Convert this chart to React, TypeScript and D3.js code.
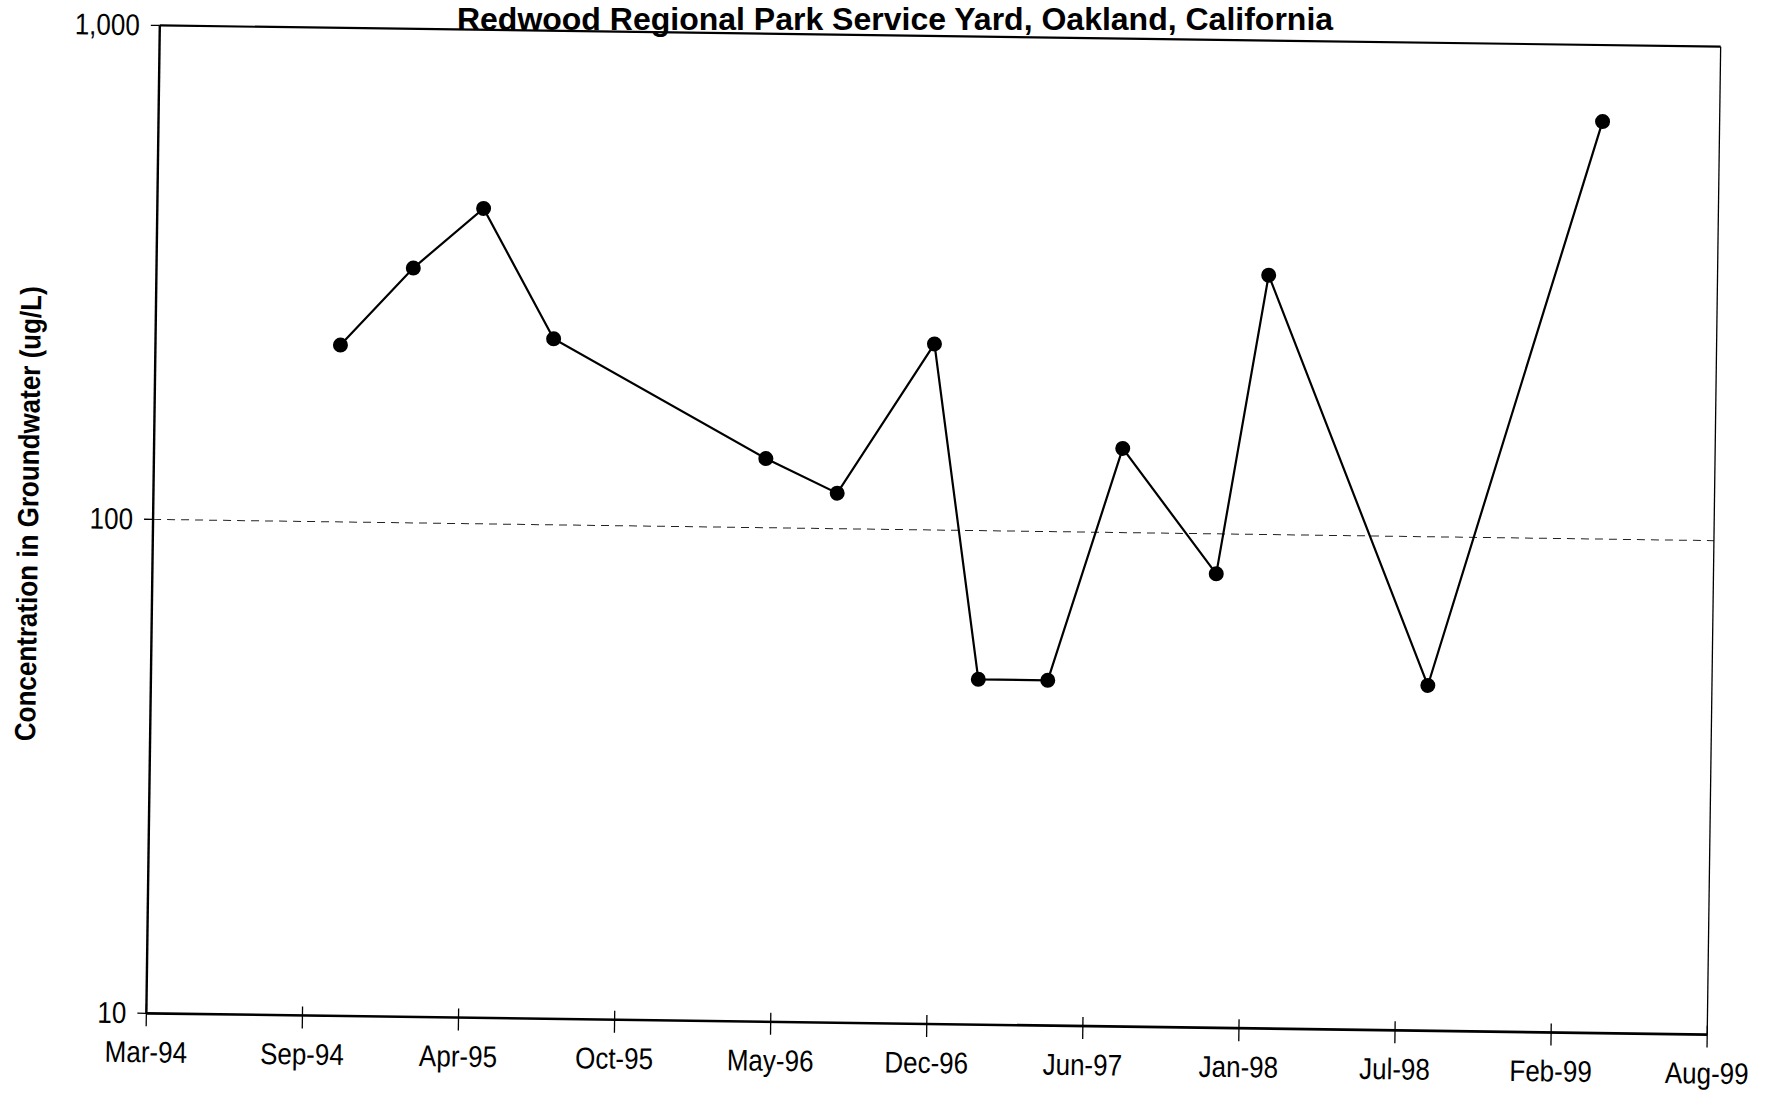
import React from "react";
import * as d3 from "d3";

// Sampling dates and measured concentrations (ug/L)
const sampleDates = [
  "1994-11-02", "1995-02-02", "1995-05-02", "1995-08-02",
  "1996-05-02", "1996-08-02", "1996-12-02", "1997-02-02",
  "1997-05-02", "1997-08-02", "1997-12-02", "1998-02-02",
  "1998-09-01", "1999-04-03",
];
const concentrations = [228, 328, 435, 238, 138, 118, 238, 50, 50, 148, 83, 335, 50, 700];

// Date axis: ticks every 200 days
const xTickDates = [
  "1994-03-10", "1994-09-26", "1995-04-14", "1995-10-31", "1996-05-18",
  "1996-12-04", "1997-06-22", "1998-01-08", "1998-07-27", "1999-02-12", "1999-08-31",
];
const yTickValues = [10, 100, 1000];

const TITLE = "Redwood Regional Park Service Yard, Oakland, California";
const Y_LABEL = "Concentration in Groundwater (ug/L)";

const W = 1775;
const H = 1094;
const plot = { left: 153, right: 1714, top: 36, bottom: 1024 };
const FONT = "'Liberation Sans', Arial, Helvetica, sans-serif";

const parse = d3.timeParse("%Y-%m-%d");
const fmt = d3.timeFormat("%b-%y");
const fmtY = d3.format(",");

export default function App() {
  const ticks = xTickDates.map((s) => parse(s) as Date);
  const x = d3
    .scaleTime()
    .domain([ticks[0], ticks[ticks.length - 1]])
    .range([plot.left, plot.right]);
  const y = d3.scaleLog().domain([10, 1000]).range([plot.bottom, plot.top]);

  const points = sampleDates.map((d, i) => ({ date: parse(d) as Date, value: concentrations[i] }));
  const line = d3
    .line<{ date: Date; value: number }>()
    .x((d) => x(d.date))
    .y((d) => y(d.value));

  const tickStretch = 1.15;

  return (
    <svg
      width={W}
      height={H}
      style={{ position: "absolute", left: 0, top: 0, background: "#fff" }}
    >
      <rect x={0} y={0} width={W} height={H} fill="#fff" />
      <g transform={`rotate(0.78 ${(plot.left + plot.right) / 2} ${(plot.top + plot.bottom) / 2})`}>
        {/* gridline at 100 */}
        <line
          x1={plot.left}
          x2={plot.right}
          y1={y(100)}
          y2={y(100)}
          stroke="#222"
          strokeWidth={1}
          strokeDasharray="8 6"
        />

        {/* plot frame */}
        <line x1={plot.left} x2={plot.right} y1={plot.top} y2={plot.top} stroke="#000" strokeWidth={2.2} />
        <line x1={plot.right} x2={plot.right} y1={plot.top} y2={plot.bottom} stroke="#000" strokeWidth={1.3} />
        <line x1={plot.left} x2={plot.left} y1={plot.top} y2={plot.bottom} stroke="#000" strokeWidth={2.4} />
        <line x1={plot.left} x2={plot.right} y1={plot.bottom} y2={plot.bottom} stroke="#000" strokeWidth={2.6} />

        {/* y axis ticks and labels */}
        {yTickValues.map((v) => (
          <g key={v}>
            <line x1={plot.left - 9} x2={plot.left} y1={y(v)} y2={y(v)} stroke="#000" strokeWidth={1.3} />
            <text
              transform={`translate(${plot.left - 20},${y(v) + 10}) scale(1,${tickStretch})`}
              textAnchor="end"
              fontFamily={FONT}
              fontSize={26}
              fill="#000"
            >
              {fmtY(v)}
            </text>
          </g>
        ))}

        {/* x axis ticks and labels */}
        {ticks.map((t, i) => (
          <g key={i}>
            <line x1={x(t)} x2={x(t)} y1={plot.bottom - 9} y2={plot.bottom + 13} stroke="#000" strokeWidth={1.3} />
            <text
              transform={`translate(${x(t)},${plot.bottom + 49}) scale(1,${tickStretch})`}
              textAnchor="middle"
              fontFamily={FONT}
              fontSize={26}
              fill="#000"
            >
              {fmt(t)}
            </text>
          </g>
        ))}

        {/* series */}
        <path d={line(points) ?? ""} fill="none" stroke="#000" strokeWidth={2.2} />
        {points.map((p, i) => (
          <circle key={i} cx={x(p.date)} cy={y(p.value)} r={7.5} fill="#000" />
        ))}

        {/* y axis title */}
        <text
          transform={`translate(38,${(plot.top + plot.bottom) / 2 - 4}) rotate(-90) scale(1,1.12)`}
          textAnchor="middle"
          fontFamily={FONT}
          fontWeight="bold"
          fontSize={26}
          fill="#000"
        >
          {Y_LABEL}
        </text>
      </g>

      {/* title */}
      <text
        x={895}
        y={29.5}
        textAnchor="middle"
        fontFamily={FONT}
        fontWeight="bold"
        fontSize={32}
        fill="#000"
      >
        {TITLE}
      </text>
    </svg>
  );
}
